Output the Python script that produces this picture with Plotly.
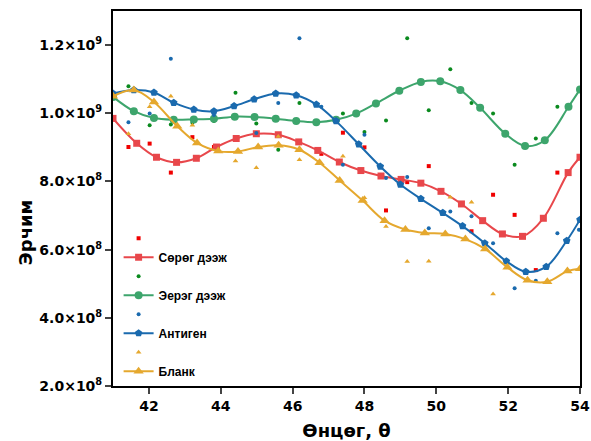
import plotly.graph_objects as go

# ---- fitted curves (values in units of 1e8) ----
red_x = [41.0, 41.66, 42.21, 42.77, 43.32, 43.88, 44.43, 44.99, 45.6, 46.17, 46.7, 47.3, 47.9, 48.46, 49.02, 49.57, 50.13, 50.7, 51.29, 51.84, 52.40, 52.98, 53.67, 54.0]
red_y = [9.85, 9.12, 8.71, 8.56, 8.68, 9.01, 9.26, 9.40, 9.37, 9.16, 8.91, 8.57, 8.32, 8.16, 8.06, 7.95, 7.71, 7.34, 6.85, 6.46, 6.39, 6.92, 8.26, 8.71]

green_x = [41.0, 41.58, 42.14, 42.69, 43.25, 43.81, 44.39, 44.94, 45.53, 46.10, 46.66, 47.21, 47.77, 48.32, 48.97, 49.57, 50.11, 50.67, 51.22, 51.92, 52.47, 53.02, 53.68, 54.0]
green_y = [10.48, 10.06, 9.86, 9.81, 9.82, 9.84, 9.90, 9.89, 9.84, 9.77, 9.74, 9.81, 9.99, 10.29, 10.66, 10.92, 10.94, 10.68, 10.16, 9.40, 9.04, 9.21, 10.19, 10.70]

blue_x = [41.0, 41.58, 42.14, 42.69, 43.25, 43.81, 44.37, 44.93, 45.53, 46.10, 46.66, 47.21, 47.84, 48.44, 49.0, 49.57, 50.18, 50.73, 51.35, 51.95, 52.49, 53.06, 53.63, 54.0]
blue_y = [10.58, 10.68, 10.61, 10.31, 10.11, 10.06, 10.21, 10.41, 10.58, 10.53, 10.26, 9.77, 9.09, 8.44, 7.91, 7.49, 7.08, 6.69, 6.19, 5.66, 5.35, 5.50, 6.26, 6.88]

yellow_x = [41.0, 41.58, 42.14, 42.79, 43.34, 43.93, 44.48, 45.04, 45.61, 46.19, 46.75, 47.31, 47.95, 48.56, 49.14, 49.68, 50.25, 50.81, 51.36, 51.98, 52.54, 53.09, 53.65, 54.0]
yellow_y = [10.50, 10.68, 10.33, 9.62, 9.13, 8.89, 8.88, 9.01, 9.06, 8.93, 8.55, 8.03, 7.44, 6.85, 6.59, 6.49, 6.46, 6.31, 6.02, 5.48, 5.10, 5.06, 5.37, 5.44]

# ---- raw measurements (values in units of 1e8) ----
raw_x = [41.43, 42.02, 42.61, 43.21, 43.81, 44.41, 44.99, 45.60, 46.19, 46.80, 47.40, 48.00, 48.60, 49.19, 49.79, 50.39, 50.98, 51.58, 52.18, 52.77, 53.37, 53.97]
red_raw = [9.01, 9.11, 8.26, 9.30, 9.01, None, None, None, None, 8.81, 9.43, 9.00, 7.15, 7.98, 8.45, None, 6.54, 7.61, 7.02, 5.40, 8.26, None]
green_raw = [10.79, 9.65, 9.67, 9.72, 9.77, 10.60, 9.70, 8.93, 10.30, None, 9.99, 9.45, 9.79, 12.20, 10.09, 11.29, 10.30, 9.99, 8.49, 9.26, 10.19, None]
blue_raw = [9.74, 9.99, 11.60, None, 9.95, None, 9.42, 10.30, 12.20, 10.19, 8.49, 9.37, 8.10, 8.13, 6.63, 7.12, 6.98, 6.19, 4.87, 5.09, 6.48, 6.58]
yellow_raw = [9.40, 10.19, 10.50, 9.65, None, 8.60, 8.40, 9.32, 8.64, None, 8.74, 7.52, 6.68, 5.65, 5.66, 7.54, 7.39, 4.70, None, None, None, None]

names = ["Сөрөг дээж", "Эерэг дээж", "Антиген", "Бланк"]
y_ticks = [2e8, 4e8, 6e8, 8e8, 1e9, 1.2e9]
y_ticktext = ["2.0×10<sup>8</sup>", "4.0×10<sup>8</sup>", "6.0×10<sup>8</sup>",
              "8.0×10<sup>8</sup>", "1.0×10<sup>9</sup>", "1.2×10<sup>9</sup>"]
x_ticks = [42, 44, 46, 48, 50, 52, 54]
x_title = "Өнцөг, θ"
y_title = "Эрчим"

S = 1e8
series = [
    (red_x, red_y, red_raw, "#E8474B", "#F00000", "square", "square", 7, 4),
    (green_x, green_y, green_raw, "#3DA56C", "#0A8A1E", "circle", "circle", 8, 4),
    (blue_x, blue_y, blue_raw, "#1A6AAE", "#1A6AAE", "pentagon", "circle", 8, 4),
    (yellow_x, yellow_y, yellow_raw, "#E5A82E", "#E5A82E", "triangle-up", "triangle-up", 9, 5),
]

fig = go.Figure()
for (cx, cy, raw, lc, rc, msym, rsym, msz, rsz), nm in zip(series, names):
    fig.add_trace(go.Scatter(
        x=raw_x, y=[v * S if v is not None else None for v in raw],
        mode="markers", name="", showlegend=True,
        marker=dict(symbol=rsym, size=rsz, color=rc, line=dict(width=0)),
    ))
    fig.add_trace(go.Scatter(
        x=cx, y=[v * S for v in cy], mode="lines+markers", name=nm,
        line=dict(color=lc, width=2, shape="spline", smoothing=1),
        marker=dict(symbol=msym, size=msz, color=lc, line=dict(width=0)),
    ))

BOLD = "DejaVu Sans, sans-serif"
fig.update_layout(
    width=591, height=441, autosize=False,
    margin=dict(l=113, r=11, t=11, b=55, autoexpand=False),
    paper_bgcolor="white", plot_bgcolor="white",
    font=dict(family="Liberation Sans, Arial, sans-serif", color="black", size=13, weight="bold"),
    showlegend=True,
    legend=dict(x=0.012, y=0.433, xanchor="left", yanchor="top",
                bgcolor="rgba(0,0,0,0)",
                font=dict(family="Liberation Sans, Arial, sans-serif", size=12, weight="bold"),
                tracegroupgap=0, itemwidth=30),
    xaxis=dict(range=[41, 54], tickvals=x_ticks, ticks="outside", ticklen=6, tickwidth=2,
               showline=True, linewidth=2, linecolor="black", mirror=True,
               showgrid=False, zeroline=False, automargin=False,
               tickfont=dict(family=BOLD, size=14, weight="bold"),
               title=dict(text=x_title, font=dict(family=BOLD, size=18, weight="bold"), standoff=14)),
    yaxis=dict(range=[2e8, 1.3e9], tickvals=y_ticks, ticktext=y_ticktext, ticks="outside",
               ticklen=6, tickwidth=2, showline=True, linewidth=2, linecolor="black",
               mirror=True, showgrid=False, zeroline=False, automargin=False,
               tickfont=dict(family=BOLD, size=14, weight="bold")),
    annotations=[dict(text=y_title, xref="paper", yref="paper", x=-0.188, y=0.41,
                      xanchor="center", yanchor="middle", textangle=-90, showarrow=False,
                      font=dict(family=BOLD, size=18, weight="bold", color="black"))],
)

fig.write_html("out.html")
